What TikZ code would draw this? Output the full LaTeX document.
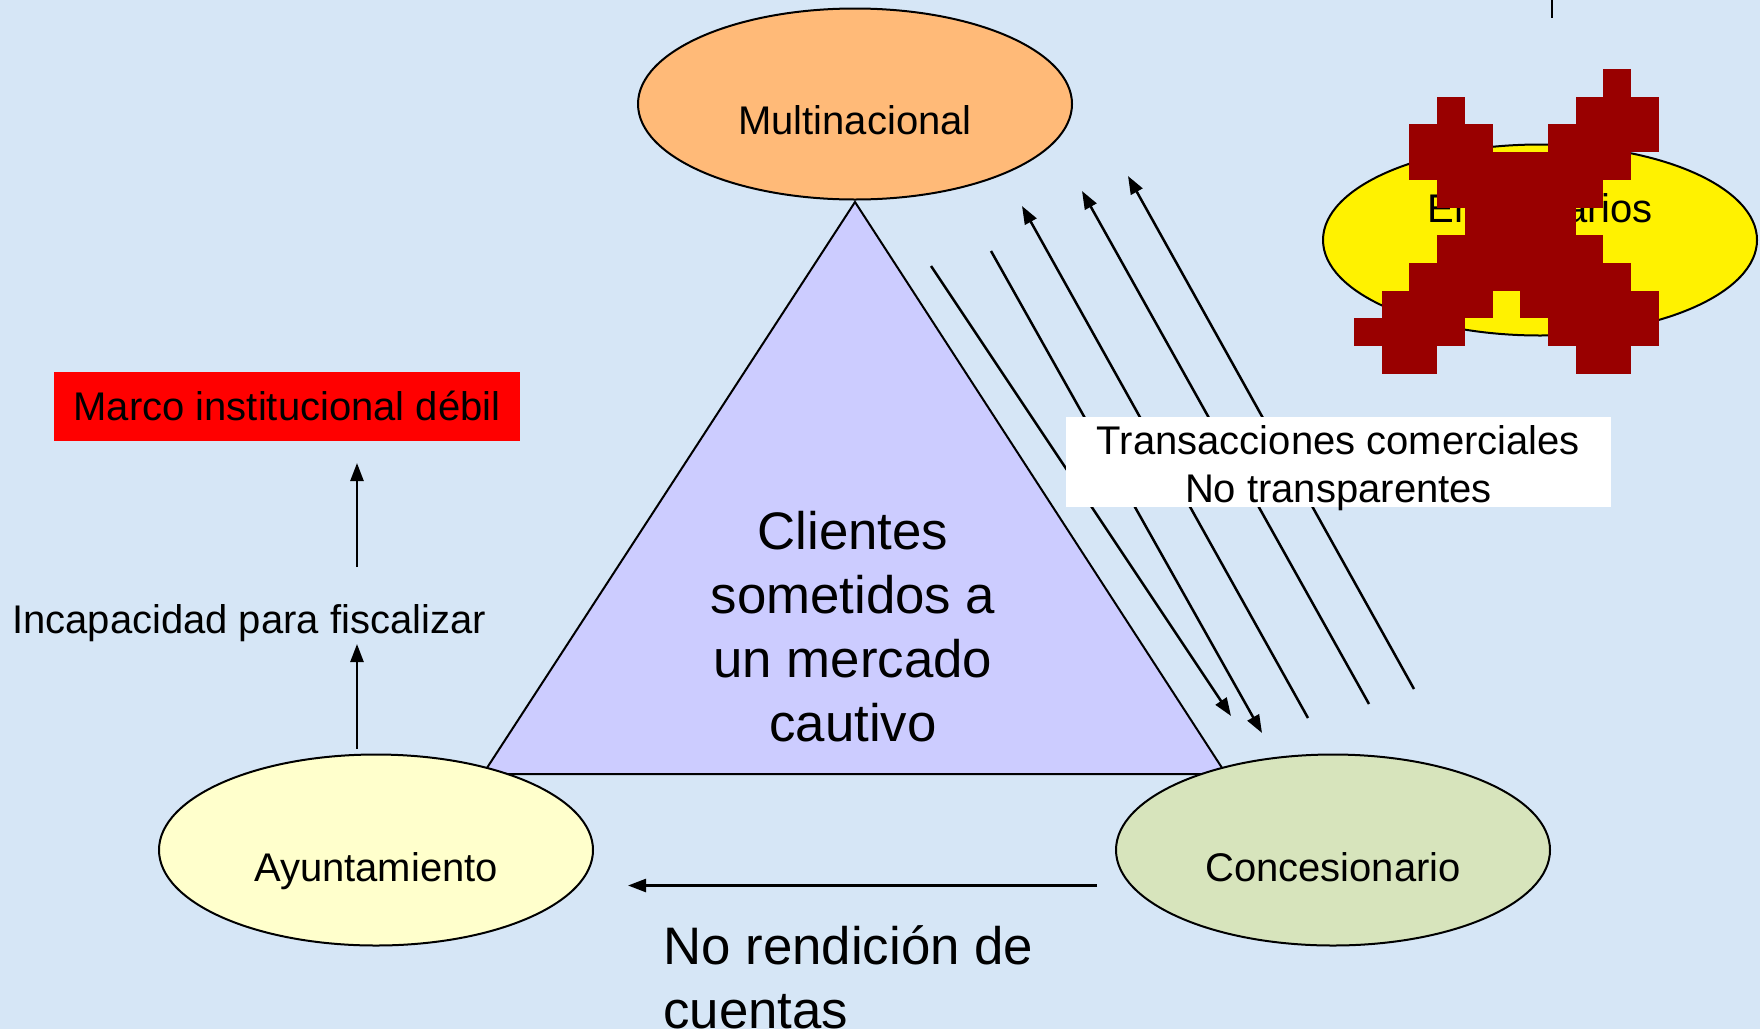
\documentclass[tikz,border=0pt]{standalone}
\usepackage{fontspec}
\setmainfont{Liberation Sans}
\usetikzlibrary{arrows.meta,shapes.geometric}
\definecolor{bgblue}{RGB}{214,230,246}
\definecolor{peach}{RGB}{255,186,120}
\definecolor{lav}{RGB}{204,204,255}
\definecolor{lyellow}{RGB}{255,255,204}
\definecolor{lgreen}{RGB}{215,228,188}
\definecolor{xred}{RGB}{153,0,0}
\begin{document}
\begin{tikzpicture}[x=0.5pt,y=-0.5pt,
  ell/.style={ellipse, draw=black, line width=1pt, minimum width=217pt, minimum height=95.5pt, inner sep=0pt},
  lbl/.style={font=\fontsize{20pt}{24pt}\selectfont, inner sep=0pt},
  big/.style={font=\fontsize{26.4pt}{32pt}\selectfont, inner sep=0pt},
  arr/.style={line width=1.25pt, -{Triangle[length=9pt,width=6.5pt]}},
  plain/.style={line width=1.25pt}]
\fill[bgblue] (0,0) rectangle (1760,1029);
\useasboundingbox (0,0) rectangle (1760,1029);

% triangle
\filldraw[fill=lav, line width=1pt] (855,202) -- (1226,774) -- (483,774) -- cycle;
\node[big, align=center] (clientes) at (853,627) {Clientes\\sometidos a\\un mercado\\cautivo};

% ellipses
\node[ell, fill=peach] (mult) at (855,104) {};
\node[lbl, anchor=base] (multT) at (855,134) {Multinacional};
\node[ell, fill=lyellow] (ayun) at (376,850) {};
\node[lbl, anchor=base] (ayunT) at (376,881) {Ayuntamiento};
\node[ell, fill=lgreen] (conc) at (1333,850) {};
\node[lbl, anchor=base] (concT) at (1333,881) {Concesionario};
\node[ell, fill=yellow] (empr) at (1540,240) {};
\node[lbl, anchor=base] (emprT) at (1540,222) {Empresarios};

% the X over Empresarios
\foreach \r/\a/\b in {0/9/10, 1/3/4, 1/8/11, 2/2/5, 2/7/11, 3/2/10, 4/3/9, 5/4/8, 6/3/9, 7/2/10, 8/1/5, 8/6/11, 9/0/4, 9/7/11, 10/1/3, 10/8/10}
  \fill[xred] ({1354+27.7*\a},{69+27.7*\r}) rectangle ({1354+27.7*\b},{69+27.7*(\r+1)});

% line at the top edge
\coordinate (topa) at (1552,0);
\coordinate (topb) at (1552,18);
\draw[plain] (topa) -- (topb);

% diagonal arrows
\coordinate (a1s) at (931,266);  \coordinate (a1e) at (1231,716);
\coordinate (a2s) at (991,251);  \coordinate (a2e) at (1262,733);
\coordinate (a3s) at (1308,718); \coordinate (a3e) at (1022,206);
\coordinate (a4s) at (1369,704); \coordinate (a4e) at (1082,191);
\coordinate (a5s) at (1414,689); \coordinate (a5e) at (1128,176);
\draw[arr] (a1s) -- (a1e);
\draw[arr] (a2s) -- (a2e);
\draw[arr] (a3s) -- (a3e);
\draw[arr] (a4s) -- (a4e);
\draw[arr] (a5s) -- (a5e);

% Transacciones box
\node[fill=white, minimum width=272.5pt, minimum height=45pt, inner sep=0pt] (trbox) at (1338.5,462) {};
\node[lbl, align=center] (trtext) at (1338.5,468) {Transacciones comerciales\\No transparentes};

% left side
\node[fill=red, minimum width=233pt, minimum height=34.5pt, inner sep=0pt] (marco) at (287,406.5) {};
\node[lbl, anchor=base] (marcoT) at (287,420) {Marco institucional débil};
\node[lbl, anchor=base] (incap) at (249,633) {Incapacidad para fiscalizar};
\coordinate (v1s) at (357,567); \coordinate (v1e) at (357,463);
\coordinate (v2s) at (357,749); \coordinate (v2e) at (357,644);
\draw[arr] (v1s) -- (v1e);
\draw[arr] (v2s) -- (v2e);

% bottom
\coordinate (hs) at (1097,885.5); \coordinate (he) at (628,885.5);
\draw[arr] (hs) -- (he);
\node[big, align=left, anchor=west] (norend) at (663,977) {No rendición de\\cuentas};
\end{tikzpicture}
\end{document}
